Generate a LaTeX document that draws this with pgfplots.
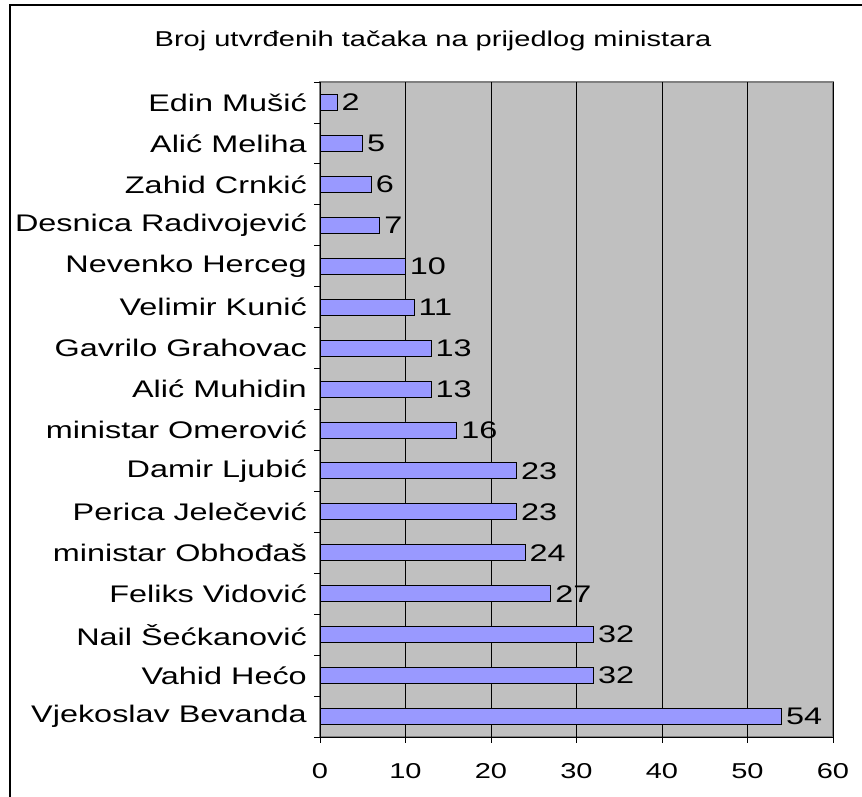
\documentclass[border=0pt]{standalone}
\usepackage{fontspec}
\setmainfont{Liberation Sans}[FakeStretch=1.35]
\usepackage{pgfplots}
\pgfplotsset{compat=1.18}
\definecolor{plotgray}{HTML}{C0C0C0}
\definecolor{bordergray}{HTML}{808080}
\definecolor{barblue}{HTML}{9999FF}
\newcommand{\chartfont}{\fontsize{21.5bp}{25bp}\selectfont}
\newcommand{\labelfont}{\fontsize{24bp}{28bp}\selectfont}
\begin{document}
\begin{tikzpicture}
\useasboundingbox (0,0) rectangle (862bp,797bp);
\fill[white] (0,0) rectangle (862bp,797bp);
\begin{axis}[
  at={(320bp,60bp)}, anchor=south west,
  scale only axis, width=513bp, height=655bp,
  xbar, bar width=16bp,
  xmin=0, xmax=60, ymin=-0.5, ymax=15.5,
  axis x line*=bottom, axis y line*=left,
  axis line style={black, line width=0.9bp},
  axis background/.style={fill=plotgray, draw=bordergray, line width=1.2bp},
  xtick={0,10,...,60},
  ytick={0,...,15},
  yticklabels={Vjekoslav Bevanda, Vahid Hećo, Nail Šećkanović, Feliks Vidović, ministar Obhođaš, Perica Jelečević, Damir Ljubić, ministar Omerović, Alić Muhidin, Gavrilo Grahovac, Velimir Kunić, Nevenko Herceg, Desnica Radivojević, Zahid Crnkić, Alić Meliha, Edin Mušić},
  minor ytick={-0.5,0.5,...,15.5},
  tick align=outside,
  major tick length=6bp, minor tick length=6bp,
  major y tick style={draw=none},
  tick style={black, line width=0.8bp},
  xmajorgrids=true, ymajorgrids=false, yminorgrids=false,
  major grid style={black, line width=0.8bp},
  /pgf/number format/assume math mode=true,
  ticklabel style={text=black},
  yticklabel style={font=\labelfont, anchor=east, inner sep=0pt},
  yticklabel shift=7bp,
  xticklabel style={font=\chartfont, anchor=north, inner sep=0pt},
  xticklabel shift=20bp,
  nodes near coords,
  every node near coord/.append style={font=\labelfont, text=black, anchor=west, inner sep=4bp},
]
\addplot[fill=barblue, draw=black, line width=0.9bp] coordinates {
  (54,0) (32,1) (32,2) (27,3) (24,4) (23,5) (23,6) (16,7)
  (13,8) (13,9) (11,10) (10,11) (7,12) (6,13) (5,14) (2,15)
};
\end{axis}
\node[anchor=base, font=\chartfont, inner sep=0pt] at (433bp,750bp) {Broj utvrđenih tačaka na prijedlog ministara};
\draw[black, line width=1.6bp] (10bp,0) -- (10bp,792bp) -- (862bp,792bp);
\end{tikzpicture}
\end{document}
